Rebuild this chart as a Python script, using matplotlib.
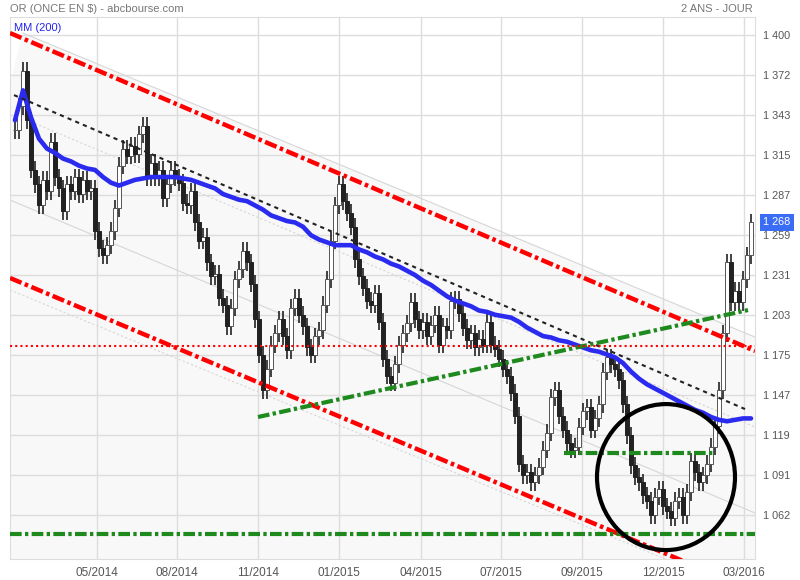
import numpy as np
import matplotlib.pyplot as plt
from matplotlib.patches import Ellipse, Polygon

# -------------------------------
# Données
# -------------------------------
closes = [
    1333, 1350, 1375, 1340, 1305, 1295, 1280, 1298, 1290, 1325,
    1300, 1292, 1276, 1295, 1290, 1300, 1288, 1298, 1290, 1292,
    1262, 1250, 1245, 1252, 1262, 1278, 1308, 1320, 1315, 1322,
    1316, 1330, 1336, 1300, 1310, 1300, 1305, 1285, 1295, 1305,
    1300, 1296, 1282, 1280, 1290, 1268, 1255, 1258, 1240, 1230,
    1232, 1215, 1210, 1195, 1208, 1228, 1235, 1248, 1240, 1225,
    1200, 1175, 1150, 1165, 1182, 1190, 1200, 1188, 1178, 1208,
    1215, 1203, 1195, 1180, 1175, 1188, 1192, 1210, 1228, 1255,
    1280, 1295, 1283, 1275, 1265, 1242, 1230, 1222, 1213, 1210,
    1218, 1198, 1172, 1160, 1155, 1168, 1182, 1190, 1197, 1212,
    1200, 1192, 1198, 1188, 1196, 1203, 1182, 1195, 1192, 1213,
    1214, 1204, 1194, 1185, 1190, 1180, 1186, 1182, 1198, 1182,
    1179, 1172, 1165, 1160, 1148, 1132, 1098, 1090, 1092, 1085,
    1090, 1096, 1108, 1120, 1145, 1150, 1132, 1122, 1113, 1108,
    1110, 1124, 1135, 1138, 1122, 1130, 1140, 1163, 1173, 1168,
    1165, 1157, 1140, 1118, 1097, 1089, 1085, 1076, 1072, 1062,
    1075, 1080, 1068, 1065, 1060, 1072, 1075, 1062, 1078, 1100,
    1092, 1085, 1090, 1098, 1110, 1125, 1150, 1190, 1240, 1212,
    1220, 1212, 1228, 1245, 1268,
]

# moyenne mobile 200 jours (un point toutes les deux bougies)
mm200 = [
    1340, 1361, 1342, 1327, 1320, 1317, 1313, 1311, 1308, 1306,
    1305, 1300, 1296, 1294, 1296, 1298, 1299, 1300, 1300, 1300,
    1300, 1299, 1298, 1296, 1294, 1292, 1288, 1286, 1284, 1283,
    1280, 1277, 1273, 1271, 1269, 1268, 1265, 1259, 1256, 1254,
    1252, 1252, 1252, 1249, 1247, 1244, 1242, 1239, 1237, 1234,
    1231, 1227, 1224, 1220, 1216, 1213, 1211, 1209, 1206, 1205,
    1203, 1202, 1201, 1198, 1194, 1191, 1188, 1187, 1185, 1184,
    1182, 1180, 1178, 1177, 1175, 1173, 1169, 1163, 1158, 1154,
    1151, 1148, 1145, 1142, 1139, 1136, 1134, 1131, 1129, 1128,
    1129, 1130, 1130,
]

# tracés de l'utilisateur : (indice début, prix début, indice fin, prix fin)
canal_haut = (-1.25, 1401.4, 185, 1177.5)
canal_bas = (-1.25, 1228.9, 171.25, 1024.6)
tendance = (-0.25, 1357.7, 182.5, 1136.6)
support_vert = (60.75, 1131.0, 183.25, 1206.3)
niveau_rouge = 1181
niveau_bas = 1048.6
niveau_cercle = (137.25, 174.5, 1105.6)
cercle = (162.75, 1088.7, 34.5, 102.8)

# canal de régression (gris clair)
reg_haut = (2, 1401.4, 185, 1187.3)
reg_bas = (-1.25, 1283.8, 185, 1063.4)
reg_milieu = (3, 1340.1, 185, 1124.0)
reg_inf = (-1.25, 1220.4, 171.25, 1021.0)

yticks = [1400 - k * 28.17 for k in range(13)]
ylabels = ["1 400", "1 372", "1 343", "1 315", "1 287", "1 259", "1 231",
           "1 203", "1 175", "1 147", "1 119", "1 091", "1 062"]
xticks = [20.5, 40.5, 60.75, 81, 101.5, 121.5, 141.75, 162, 182.25]
xlabels = ["05/2014", "08/2014", "11/2014", "01/2015", "04/2015",
           "07/2015", "09/2015", "12/2015", "03/2016"]
dernier = 1268

# -------------------------------
# Figure
# -------------------------------
plt.rcParams['font.family'] = ['Liberation Sans', 'DejaVu Sans']
fig = plt.figure(figsize=(8, 5.8), dpi=100)
ax = fig.add_axes([0.0125, 0.0362, 0.93125, 0.9345])
ax.set_xlim(-1.25, 185)
ax.set_ylim(1031.0, 1412.7)
ax.set_facecolor("white")

# zone ombrée sous le canal
poly = Polygon([(reg_haut[0], reg_haut[1]), (reg_haut[2], reg_haut[3]),
                (185, 1031.0), (-1.25, 1031.0), (-1.25, 1366)],
               closed=True, facecolor="#f8f8f8", edgecolor="none", zorder=0)
ax.add_patch(poly)

# grille
for y in yticks:
    ax.axhline(y, color="#dddddd", lw=1, zorder=1)
for x in xticks:
    ax.axvline(x, color="#dddddd", lw=1, zorder=1)

# lignes grises du canal
for seg in (reg_haut, reg_bas):
    ax.plot([seg[0], seg[2]], [seg[1], seg[3]], color="#d6d6d6", lw=0.8, zorder=2)
for seg in (reg_milieu, reg_inf):
    ax.plot([seg[0], seg[2]], [seg[1], seg[3]], color="#d6d6d6", lw=0.8,
            linestyle=(0, (2, 2)), zorder=2)

# bougies
c = np.array(closes, dtype=float)
o = np.concatenate([[c[0]], c[:-1]])
idx = np.arange(len(c))
hi = np.maximum(o, c) + 6
lo = np.minimum(o, c) - 6
up = c >= o
ax.vlines(idx, lo, hi, color="#222222", lw=1.2, zorder=3)
ax.bar(idx[up], c[up] - o[up], bottom=o[up], width=0.8, color="white",
       edgecolor="#555555", linewidth=0.7, zorder=4)
ax.bar(idx[~up], c[~up] - o[~up], bottom=o[~up], width=0.8, color="#222222",
       edgecolor="#222222", linewidth=0.7, zorder=4)

# moyenne mobile
mm_x = np.minimum(np.arange(len(mm200)) * 2, len(c) - 1)
ax.plot(mm_x, mm200, color="#2b2bf0", lw=3.3, zorder=6, solid_capstyle="round")

# tracés
dashdot = (0, (2.8, 0.8, 0.8, 0.8))
ax.plot([canal_haut[0], canal_haut[2]], [canal_haut[1], canal_haut[3]],
        color="#ff0000", lw=3.2, linestyle=dashdot, zorder=7)
ax.plot([canal_bas[0], canal_bas[2]], [canal_bas[1], canal_bas[3]],
        color="#ff0000", lw=3.2, linestyle=dashdot, zorder=7)
ax.plot([tendance[0], tendance[2]], [tendance[1], tendance[3]],
        color="#222222", lw=1.5, linestyle=(0, (2, 2)), zorder=7)
ax.plot([support_vert[0], support_vert[2]], [support_vert[1], support_vert[3]],
        color="#1e8a1e", lw=3, linestyle=dashdot, zorder=7)
ax.axhline(niveau_rouge, color="#ff0000", lw=1.5, linestyle=(0, (1, 1.5)), zorder=7)
ax.axhline(niveau_bas, color="#1e8a1e", lw=3, linestyle=dashdot, zorder=7)
ax.plot([niveau_cercle[0], niveau_cercle[1]], [niveau_cercle[2], niveau_cercle[2]],
        color="#1e8a1e", lw=3, linestyle=dashdot, zorder=7)
ax.add_patch(Ellipse((cercle[0], cercle[1]), cercle[2], cercle[3], fill=False,
                     edgecolor="black", lw=3, zorder=8))

# axes
ax.set_yticks(yticks)
ax.set_yticklabels(ylabels)
ax.yaxis.tick_right()
ax.set_xticks(xticks)
ax.set_xticklabels(xlabels)
ax.tick_params(length=0, labelsize=8.5, colors="#555555")
ax.tick_params(axis="y", pad=6, labelsize=7.8)
ax.tick_params(axis="x", pad=6)
for s in ax.spines.values():
    s.set_color("#dddddd")

# étiquette du dernier cours
ax.annotate(f"1 {dernier % 1000:03d}", xy=(1.0, dernier), xycoords=("axes fraction", "data"),
            xytext=(6, 0), textcoords="offset points", va="center", ha="left",
            fontsize=7.8, color="white",
            bbox=dict(boxstyle="square,pad=0.35", facecolor="#3b6cf5", edgecolor="none"),
            zorder=10, annotation_clip=False)

# textes
fig.text(0.0125, 0.985, "OR (ONCE EN $) - abcbourse.com", fontsize=8,
         color="#777777", va="center", ha="left")
fig.text(0.941, 0.985, "2 ANS - JOUR", fontsize=8, color="#777777",
         va="center", ha="right")
ax.text(0.005, 0.988, "MM (200)", transform=ax.transAxes, fontsize=8,
        color="#2222ee", va="top", ha="left", zorder=10)

fig.savefig("out.png", dpi=100)
